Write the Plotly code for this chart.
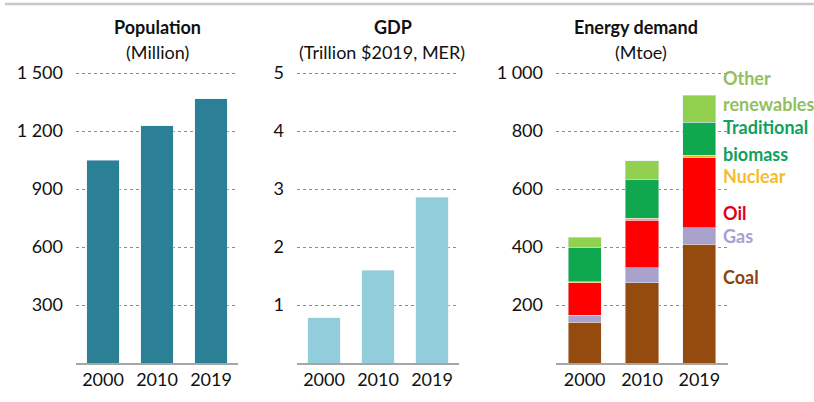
import plotly.graph_objects as go

W, H = 814, 402

years = ["2000", "2010", "2019"]
population = [1050, 1228, 1366]
gdp = [0.78, 1.60, 2.86]

energy_sources = ["Coal", "Gas", "Oil", "Nuclear", "Traditional biomass", "Other renewables"]
coal = [141, 276, 410]
gas = [24, 52, 56]
oil = [111, 165, 241]
nuclear = [4, 7, 10]
trad_biomass = [117, 134, 114]
other_renew = [37, 63, 93]

pop_ticks = [300, 600, 900, 1200, 1500]
pop_ticktext = ["300", "600", "900", "1 200", "1 500"]
gdp_ticks = [1, 2, 3, 4, 5]
en_ticks = [200, 400, 600, 800, 1000]
en_ticktext = ["200", "400", "600", "800", "1 000"]

energy_colors = ["#964b0e", "#a9a0cc", "#ff0000", "#f5b427", "#10a84e", "#92d050"]
label_colors = ["#8a4510", "#a9a0cc", "#e00020", "#f5bd2a", "#10a060", "#92c060"]

FONT = "Lato"


def px_x(x):
    return x / W


def px_y(y):
    return 1 - y / H


fig = go.Figure()

fig.add_trace(go.Bar(x=years, y=population, marker_color="#2b8096", width=0.6,
                     xaxis="x", yaxis="y", showlegend=False))
fig.add_trace(go.Bar(x=years, y=gdp, marker_color="#92cddc", width=0.6,
                     xaxis="x2", yaxis="y2", showlegend=False))
for name, vals, col in zip(energy_sources,
                           [coal, gas, oil, nuclear, trad_biomass, other_renew],
                           energy_colors):
    fig.add_trace(go.Bar(x=years, y=vals, name=name, marker_color=col, width=0.58,
                         xaxis="x3", yaxis="y3", showlegend=False))

ydom = [px_y(363), px_y(60)]
base_px = 363 - 60
common_x = dict(showgrid=False, showline=True, linecolor="#a6a6a6", linewidth=1.5,
                ticks="", tickfont=dict(family=FONT, size=18, color="#111"),
                range=[-0.5, 2.5], fixedrange=True)
common_y = dict(showgrid=True, gridcolor="#8c8c8c", griddash="dot", gridwidth=1,
                zeroline=False, showline=False, ticks="", ticklabelstandoff=12,
                tickfont=dict(family=FONT, size=18, color="#111"), domain=ydom)

fig.update_layout(
    width=W, height=H, margin=dict(l=0, r=0, t=0, b=0),
    plot_bgcolor="white", paper_bgcolor="white", barmode="stack", bargap=0.4,
    xaxis=dict(domain=[px_x(76), px_x(238)], anchor="y", **common_x),
    yaxis=dict(anchor="x", range=[0, base_px / 58 * 300], tickvals=pop_ticks,
               ticktext=pop_ticktext, **common_y),
    xaxis2=dict(domain=[px_x(297), px_x(459)], anchor="y2", **common_x),
    yaxis2=dict(anchor="x2", range=[0, base_px / 58], tickvals=gdp_ticks, **common_y),
    xaxis3=dict(domain=[px_x(556), px_x(728)], anchor="y3", **common_x),
    yaxis3=dict(anchor="x3", range=[0, base_px / 58 * 200], tickvals=en_ticks,
                ticktext=en_ticktext, **common_y),
)

# top rule
fig.add_shape(type="line", xref="paper", yref="paper", x0=px_x(5), x1=1,
              y0=px_y(4), y1=px_y(4), line=dict(color="#c8c8c8", width=2.5))

titles = [
    ("<b>Population</b>", 157, 27),
    ("(Million)", 157, 52),
    ("<b>GDP</b>", 393, 27),
    ("(Trillion $2019, MER)", 382, 52),
    ("<b>Energy demand</b>", 636, 27),
    ("(Mtoe)", 641, 52),
]
for txt, x, y in titles:
    fig.add_annotation(text=txt, x=px_x(x), y=px_y(y), xref="paper", yref="paper",
                       showarrow=False, xanchor="center", yanchor="middle",
                       font=dict(family=FONT, size=18, color="#111"))

legend_lines = [
    ("Other", 78, 5), ("renewables", 104, 5), ("Traditional", 127, 4),
    ("biomass", 154, 4), ("Nuclear", 176, 3), ("Oil", 213, 2),
    ("Gas", 236, 1), ("Coal", 277, 0),
]
for txt, y, ci in legend_lines:
    fig.add_annotation(text="<b>" + txt + "</b>", x=px_x(721), y=px_y(y),
                       xref="paper", yref="paper", showarrow=False,
                       xanchor="left", yanchor="middle",
                       font=dict(family=FONT, size=18, color=label_colors[ci]))

fig.write_html("out.html", config={"displayModeBar": False},
               post_script="document.body.style.margin='0';document.body.style.overflow='hidden';")
